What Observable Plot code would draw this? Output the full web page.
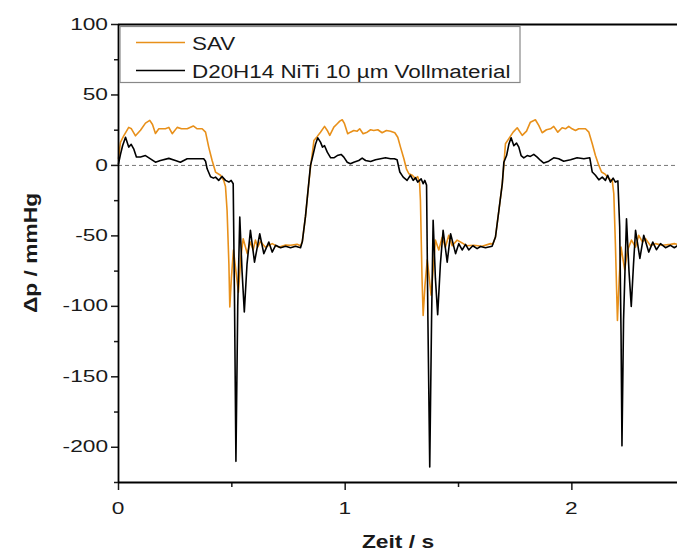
<!DOCTYPE html>
<html>
<head>
<meta charset="utf-8">
<script src="https://cdn.jsdelivr.net/npm/d3@7"></script>
<script src="https://cdn.jsdelivr.net/npm/@observablehq/plot@0.6"></script>
<style>
  html, body { margin: 0; padding: 0; background: #fff; }
  #chart { width: 677px; height: 552px; }
</style>
</head>
<body>
<div id="chart"></div>
<script>
// ---- Data ----
const seriesNames = ["SAV", "D20H14 NiTi 10 µm Vollmaterial"];
const seriesColors = ["#E8901A", "#000000"];

const savTime = [0,0.009,0.023,0.045,0.057,0.075,0.097,0.119,0.138,0.150,0.163,0.178,0.207,0.222,0.237,0.259,0.278,0.303,0.330,0.347,0.369,0.384,0.398,0.413,0.428,0.450,0.464,0.472,0.479,0.487,0.491,0.498,0.507,0.518,0.529,0.540,0.550,0.568,0.582,0.594,0.604,0.614,0.626,0.648,0.678,0.707,0.737,0.759,0.788,0.803,0.811,0.825,0.836,0.847,0.855,0.862,0.877,0.891,0.909,0.921,0.932,0.950,0.965,0.976,0.987,0.997,1.011,1.023,1.038,1.053,1.064,1.079,1.097,1.112,1.126,1.144,1.163,1.182,1.200,1.219,1.232,1.244,1.259,1.270,1.281,1.296,1.310,1.320,1.328,1.332,1.339,1.344,1.352,1.362,1.371,1.379,1.390,1.398,1.413,1.428,1.442,1.457,1.472,1.494,1.516,1.535,1.567,1.604,1.641,1.651,1.663,1.678,1.693,1.700,1.707,1.722,1.741,1.759,1.781,1.800,1.817,1.839,1.854,1.869,1.888,1.906,1.920,1.938,1.957,1.972,1.986,2.001,2.016,2.030,2.060,2.075,2.090,2.104,2.119,2.131,2.148,2.163,2.178,2.185,2.192,2.201,2.209,2.217,2.225,2.233,2.246,2.263,2.281,2.295,2.312,2.325,2.347,2.369,2.398,2.435,2.452,2.466];
const savDp = [5,16.5,21,27,26,21,25,30,32,29,22.7,26,26,27,22.5,27,26,26,28,26,26,23.6,13,3.5,-4.7,-7,-10.6,-15,-32,-70,-100.5,-80,-60,-75,-90,-65,-52,-62.6,-54.4,-60,-53,-58,-54,-58,-55.5,-58,-56.5,-56.7,-56,-57,-54,-36,-18,-1.2,8.3,17.7,20.6,23.6,27.7,24.8,21.3,27.2,29.6,31.4,32.4,29.6,22.5,23.6,24.8,24.3,26,22.5,23.6,25.3,24.8,25.3,23.2,24.8,24.3,23.2,20,13,4.7,-2.4,-5.9,-7,-9.4,-8,-11.8,-25,-80,-106.4,-85,-67,-80,-92,-70,-53,-60,-51,-58,-49.6,-57,-53,-55,-57,-56.7,-57.4,-55.5,-56,-50.8,-32,-13,0,15.4,19,23.6,26.7,21.3,24.3,30.7,32.4,28.4,23.2,25.3,26,27.7,23.6,26.7,26,27.7,26,24.8,26,26,23.6,15.4,7,0,-4.7,-6.4,-9.4,-10.6,-20,-55.5,-110,-80,-58,-66,-74,-60,-53,-58,-49.6,-54.4,-52,-57,-55.5,-56.7,-56,-55.5,-56];

const d20Time = [0,0.009,0.018,0.031,0.045,0.056,0.067,0.079,0.097,0.119,0.141,0.163,0.185,0.222,0.251,0.273,0.303,0.340,0.376,0.384,0.391,0.406,0.419,0.428,0.442,0.457,0.472,0.487,0.497,0.506,0.512,0.518,0.526,0.535,0.545,0.555,0.567,0.582,0.600,0.623,0.641,0.663,0.678,0.693,0.715,0.737,0.759,0.781,0.803,0.811,0.825,0.836,0.847,0.856,0.869,0.879,0.891,0.900,0.909,0.921,0.936,0.950,0.965,0.982,0.994,1.009,1.023,1.038,1.060,1.075,1.090,1.112,1.134,1.156,1.178,1.200,1.217,1.229,1.241,1.256,1.273,1.288,1.300,1.310,1.320,1.335,1.344,1.351,1.359,1.365,1.373,1.381,1.388,1.398,1.408,1.420,1.432,1.450,1.465,1.487,1.501,1.516,1.531,1.545,1.563,1.582,1.597,1.619,1.648,1.663,1.678,1.693,1.700,1.712,1.722,1.732,1.744,1.756,1.766,1.776,1.788,1.803,1.817,1.832,1.847,1.862,1.876,1.898,1.920,1.942,1.964,1.994,2.023,2.053,2.079,2.090,2.104,2.119,2.134,2.148,2.158,2.170,2.182,2.192,2.203,2.211,2.217,2.221,2.228,2.241,2.252,2.262,2.272,2.281,2.300,2.317,2.339,2.357,2.373,2.391,2.413,2.435,2.452,2.466];
const d20Dp = [1.2,8,14,20,13,15,11.8,6,6,7,4.7,2.3,3.5,5,3.5,2.3,4.7,4.7,4.7,3,-2.4,-8,-9,-8.3,-10.6,-7.8,-10.6,-11.8,-10.6,-13,-100,-210,-100,-36.7,-75,-104,-70,-46,-68.6,-48.5,-62.6,-54.4,-61.5,-56.7,-58.4,-57.4,-58.4,-57.4,-58.4,-54,-36,-18,0,6,15,19.6,16.5,13,14,9.4,5.4,5.4,7,7.8,5.9,2.3,1.2,2.3,3.5,5.2,3.5,2.8,4,4.7,5.4,4.7,4.7,4,-4.7,-8.3,-10.6,-7,-10.6,-8.7,-11.8,-9.5,-13,-10.6,-14,-110,-214,-110,-39,-80,-106,-70,-46,-68.6,-48.5,-62.6,-55.5,-60,-56,-60,-57,-59,-57.5,-58.4,-57.4,-50.8,-32,-13,2.3,7,15,19.6,14,15.8,13,7,5.4,7,6.4,7.8,5.9,3.5,1.7,3,5.4,4.7,3,4,5.4,4.7,5.4,-4.7,-7,-10.2,-8.3,-10.6,-7,-11.8,-9,-11.8,-11,-43.8,-120,-199,-110,-37.8,-75,-100,-70,-46,-66,-49.6,-61.5,-54.4,-59.8,-55.5,-58.4,-56.7,-58.4,-57];

const xDomain = [0, 2.466];
const yDomain = [-225, 100];
const xMajorTicks = [0, 1, 2];
const xMinorTicks = [0.5, 1.5];
const yMajorTicks = [-200, -150, -100, -50, 0, 50, 100];
const yMinorTicks = [-225, -175, -125, -75, -25, 25, 75];
const xLabel = "Zeit / s";
const yLabel = "Δp / mmHg";

// ---- Build tables ----
const sav = savTime.map((t, i) => ({t, dp: savDp[i]}));
const d20 = d20Time.map((t, i) => ({t, dp: d20Dp[i]}));

const font = "'Liberation Sans', Arial, sans-serif";
const ink = "#1a1a1a";

const chart = Plot.plot({
  width: 677,
  height: 552,
  marginLeft: 118,
  marginRight: 0,
  marginTop: 24,
  marginBottom: 70,
  x: {domain: xDomain},
  y: {domain: yDomain},
  style: {fontFamily: font, fontSize: "16px", color: ink, background: "#fff", overflow: "visible"},
  marks: [
    Plot.ruleY([0], {stroke: "#777", strokeWidth: 1, strokeDasharray: "4,3"}),
    Plot.line(sav, {x: "t", y: "dp", stroke: seriesColors[0], strokeWidth: 1.6}),
    Plot.line(d20, {x: "t", y: "dp", stroke: seriesColors[1], strokeWidth: 1.6}),
    Plot.axisX({ticks: xMajorTicks, tickSize: 8, text: null, label: null, strokeWidth: 1.5}),
    Plot.axisX({ticks: xMinorTicks, tickSize: 5, text: null, label: null, strokeWidth: 1.5}),
    Plot.axisY({ticks: yMajorTicks, tickSize: 7, text: null, label: null, strokeWidth: 1.5}),
    Plot.axisY({ticks: yMinorTicks, tickSize: 4, text: null, label: null, strokeWidth: 1.5}),
    Plot.ruleX([xDomain[0]], {stroke: "#000", strokeWidth: 1.8}),
    Plot.ruleY([yDomain[0]], {stroke: "#000", strokeWidth: 1.8}),
    Plot.ruleY([yDomain[1]], {stroke: "#000", strokeWidth: 1.8})
  ]
});

document.getElementById("chart").appendChild(chart);

const sx = chart.scale("x");
const sy = chart.scale("y");
const svg = d3.select(chart);

// ---- Tick labels (horizontally stretched, as in the reference) ----
const tickStretch = 1.42;
yMajorTicks.forEach(v => {
  svg.append("text")
    .attr("transform", `translate(108,${sy.apply(v)}) scale(${tickStretch},1)`)
    .attr("dy", "0.35em")
    .attr("text-anchor", "end")
    .attr("font-family", font).attr("font-size", 16)
    .attr("fill", ink)
    .text(String(v));
});
xMajorTicks.forEach(v => {
  svg.append("text")
    .attr("transform", `translate(${sx.apply(v)},514) scale(${tickStretch},1)`)
    .attr("text-anchor", "middle")
    .attr("font-family", font).attr("font-size", 16)
    .attr("fill", ink)
    .text(String(v));
});

// ---- Axis titles ----
svg.append("text")
  .attr("transform", "translate(398,548) scale(1.2,1)")
  .attr("text-anchor", "middle")
  .attr("font-family", font).attr("font-size", 19).attr("font-weight", "bold")
  .attr("fill", ink)
  .text(xLabel);
svg.append("text")
  .attr("transform", "translate(37,253) rotate(-90) scale(1.2,1)")
  .attr("text-anchor", "middle")
  .attr("font-family", font).attr("font-size", 19).attr("font-weight", "bold")
  .attr("fill", ink)
  .text(yLabel);

// ---- Legend ----
const lg = svg.append("g");
lg.append("rect")
  .attr("x", 120).attr("y", 26.5).attr("width", 400).attr("height", 56)
  .attr("fill", "#fff").attr("stroke", "#888").attr("stroke-width", 1.2);
seriesNames.forEach((name, i) => {
  const y = 42.5 + i * 28;
  lg.append("line")
    .attr("x1", 136).attr("x2", 185).attr("y1", y).attr("y2", y)
    .attr("stroke", seriesColors[i]).attr("stroke-width", 1.6);
  lg.append("text")
    .attr("transform", `translate(192,${y + 7}) scale(1.18,1)`)
    .attr("text-anchor", "start")
    .attr("font-family", font).attr("font-size", 19)
    .attr("fill", ink)
    .text(name);
});
</script>
</body>
</html>
